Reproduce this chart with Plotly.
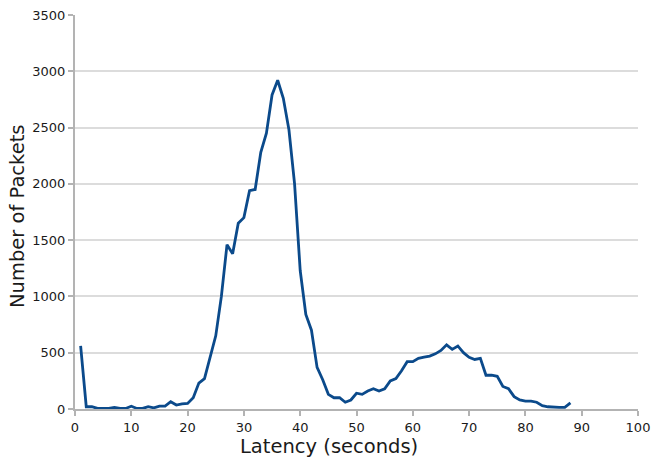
import plotly.graph_objects as go

# Packet latency histogram (1-second bins)
latency_s = list(range(1, 89))
packets = [
    560, 20, 20, 5, 5, 5, 15, 5, 5, 25,
    5, 5, 20, 10, 25, 25, 65, 35, 45, 50,
    100, 230, 270, 460, 650, 1000, 1460, 1380, 1650, 1700,
    1940, 1950, 2280, 2450, 2790, 2920, 2760, 2480, 2000, 1230,
    840, 700, 370, 260, 130, 100, 100, 60, 80, 140,
    130, 160, 180, 160, 180, 250, 270, 340, 420, 420,
    450, 460, 470, 490, 520, 570, 530, 560, 500, 460,
    440, 450, 300, 300, 290, 200, 180, 110, 80, 70,
    70, 60, 30, 20, 15, 15, 15, 55,
]

x_ticks = list(range(0, 101, 10))
y_ticks = list(range(0, 3501, 500))

W, H = 657, 460
M = dict(l=75, r=19, t=15, b=51)
plot_w = W - M["l"] - M["r"]
plot_h = H - M["t"] - M["b"]

fig = go.Figure(
    go.Scatter(
        x=latency_s,
        y=packets,
        mode="lines",
        line=dict(color="#0b4a8b", width=2.8),
        hoverinfo="skip",
    )
)

font_family = "DejaVu Sans, Verdana, sans-serif"
title_font = dict(size=19.5, family=font_family, color="#1a1a1a")

fig.update_layout(
    width=W,
    height=H,
    margin=M,
    paper_bgcolor="white",
    plot_bgcolor="white",
    showlegend=False,
    font=dict(family=font_family, color="#1a1a1a"),
)

axis_common = dict(
    ticks="outside",
    ticklen=5,
    tickwidth=1.5,
    tickcolor="#b3b3b3",
    showline=True,
    linecolor="#b3b3b3",
    linewidth=2,
    zeroline=False,
    automargin=False,
    tickfont=dict(size=13, family=font_family),
)

fig.update_xaxes(
    range=[0, 100],
    tickvals=x_ticks,
    ticktext=[str(v) for v in x_ticks],
    showgrid=False,
    **axis_common,
)

fig.update_yaxes(
    range=[0, 3500],
    tickvals=y_ticks,
    ticktext=[str(v) for v in y_ticks],
    showgrid=True,
    gridcolor="#dcdcdc",
    gridwidth=1.5,
    **axis_common,
)

# Axis titles, centred on the page rather than on the plot area
fig.add_annotation(
    text="Latency (seconds)",
    xref="paper", yref="paper",
    x=(W / 2 - M["l"]) / plot_w,
    y=-(446 - (H - M["b"])) / plot_h,
    xanchor="center", yanchor="middle",
    showarrow=False,
    font=title_font,
)
fig.add_annotation(
    text="Number of Packets",
    xref="paper", yref="paper",
    x=(17 - M["l"]) / plot_w,
    y=((H - M["b"]) - 217) / plot_h,
    xanchor="center", yanchor="middle",
    textangle=-90,
    showarrow=False,
    font=title_font,
)

fig.write_html("out.html")
